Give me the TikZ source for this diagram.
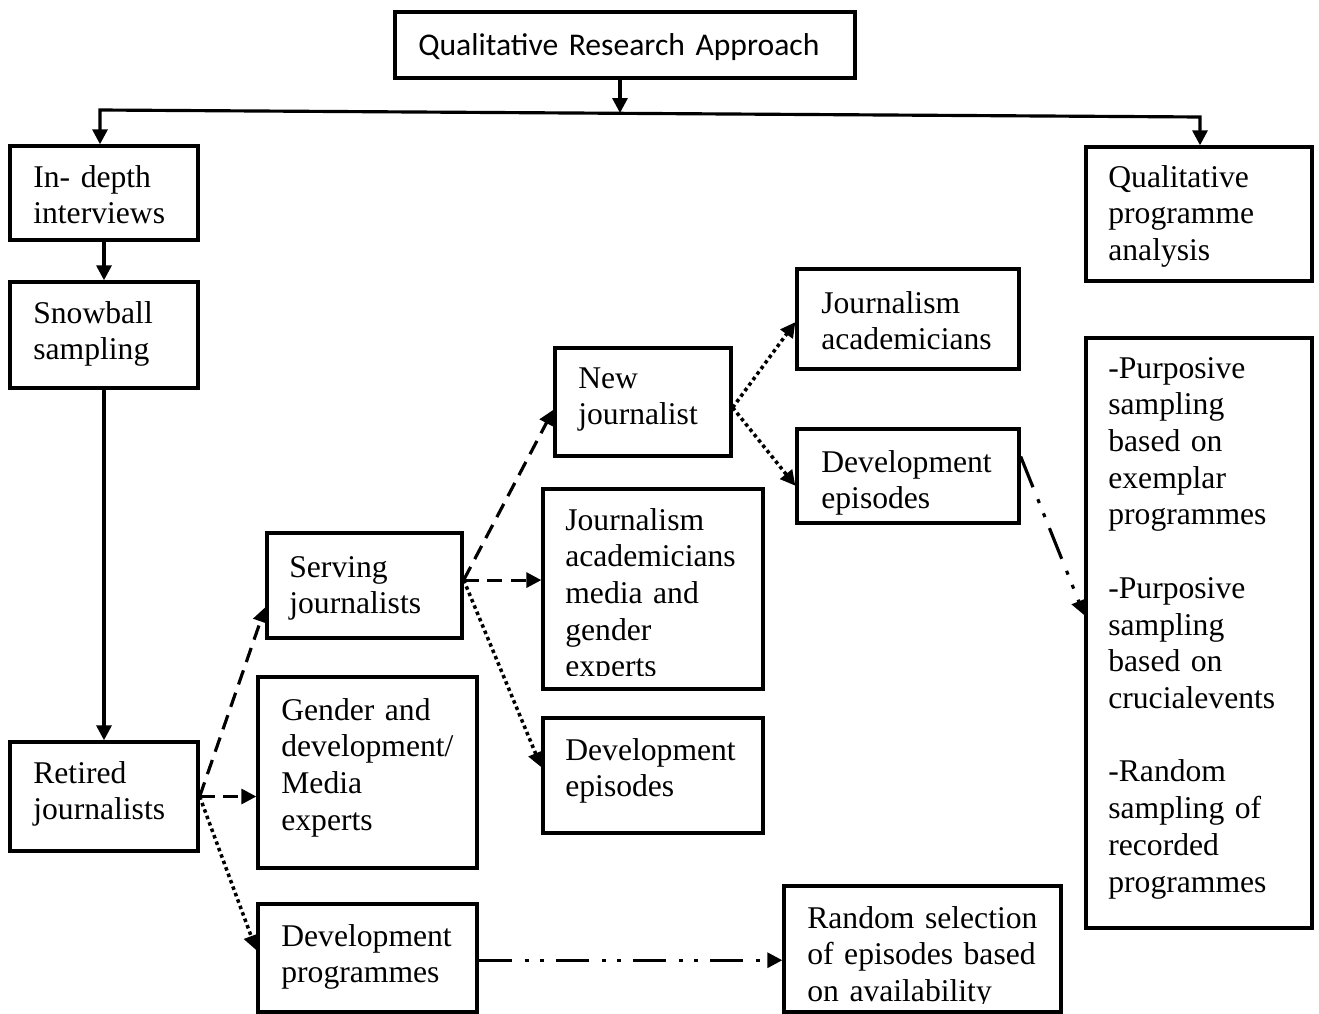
\documentclass[tikz,border=0pt]{standalone}
\usepackage{fontspec}
\setmainfont{Liberation Serif}
\newfontfamily\calibfont{Carlito}
\usetikzlibrary{arrows.meta,calc,fit}
\begin{document}
\begin{tikzpicture}[x=0.02cm,y=-0.02cm,
  box/.style={draw, line width=1.9pt, inner sep=0pt},
  txt/.style={anchor=base west, inner sep=0pt, align=left, text width=10cm, font=\fontsize{18}{20.9}\selectfont},
  conn/.style={line width=1.8pt, -{Triangle[length=8.5pt,width=8.5pt]}},
  dashedc/.style={conn, dash pattern=on 8.5pt off 5pt},
  dottedc/.style={conn, line width=2pt, dash pattern=on 2pt off 1.9pt},
  dashdotc/.style={conn, dash pattern=on 18.8pt off 7.4pt on 2.3pt off 6.3pt on 2.3pt off 6.8pt},
]
\useasboundingbox (0,0) rectangle (1319,1014);
\fill[white] (0,0) rectangle (1319,1014);

% boxes
\node[box, fit={(395,12) (855,78)}] (top) {};
\node[box, fit={(10,146) (198,240)}] (indepth) {};
\node[box, fit={(10,282) (198,388)}] (snowball) {};
\node[box, fit={(10,742) (198,851)}] (retired) {};
\node[box, fit={(1086,147) (1312,281)}] (qpa) {};
\node[box, fit={(1086,338) (1312,928)}] (big) {};
\node[box, fit={(267,533) (462,638)}] (serving) {};
\node[box, fit={(258,677) (477,868)}] (gender) {};
\node[box, fit={(258,904) (477,1012)}] (devprog) {};
\node[box, fit={(555,348) (731,456)}] (newj) {};
\node[box, fit={(543,489) (763,689)}] (jam) {};
\node[box, fit={(543,718) (763,833)}] (devepi) {};
\node[box, fit={(797,269) (1019,369)}] (jacad) {};
\node[box, fit={(797,429) (1019,523)}] (devepi2) {};
\node[box, fit={(784,886) (1061,1012)}] (random) {};

% texts
\node[txt, font=\calibfont\fontsize{18}{21}\selectfont] (top-t) at (418,55) {Qualitative Research Approach};
\node[txt] (indepth-t) at (33,187) {In- depth\\interviews};
\node[txt] (snowball-t) at (33,323) {Snowball\\sampling};
\node[txt] (retired-t) at (33,783) {Retired\\journalists};
\node[txt] (qpa-t) at (1108,187) {Qualitative\\programme\\analysis};
\node[txt] (big-t) at (1108,378) {-Purposive\\sampling\\based on\\exemplar\\programmes\\~\\-Purposive\\sampling\\based on\\crucialevents\\~\\-Random\\sampling of\\recorded\\programmes};
\node[txt] (serving-t) at (289,577) {Serving\\journalists};
\node[txt] (gender-t) at (281,720) {Gender and\\development/\\Media\\experts};
\node[txt] (devprog-t) at (281,946) {Development\\programmes};
\node[txt] (newj-t) at (578,388) {New\\journalist};
\begin{scope}
\clip (543,489) rectangle (763,675);
\node[txt] (jam-t) at (565,530) {Journalism\\academicians\\media and\\gender\\experts};
\end{scope}
\node[txt] (devepi-t) at (565,760) {Development\\episodes};
\node[txt] (jacad-t) at (821,313) {Journalism\\academicians};
\node[txt] (devepi2-t) at (821,472) {Development\\episodes};
\begin{scope}
\clip (784,886) rectangle (1061,1003);
\node[txt] (random-t) at (807,928) {Random selection\\of episodes based\\on availability};
\end{scope}

% connectors
\coordinate (jl) at (100,110);
\coordinate (jr) at (1200,117);
\coordinate (jm) at (620,113);
\draw[conn] (top.south -| jm) -- (jm);
\draw[line width=1.8pt, {Triangle[length=8.5pt,width=8.5pt]}-{Triangle[length=8.5pt,width=8.5pt]}]
  (jl |- indepth.north) -- (jl) -- (jr) -- (jr |- qpa.north);
\draw[conn] (indepth.south) -- (snowball.north);
\draw[conn] (snowball.south) -- (retired.north);

\draw[dashedc] (retired.east) -- ($(serving.north west)!0.7!(serving.south west)$);
\draw[dashedc] (retired.east) -- (retired.east -| gender.west);
\draw[dottedc] (retired.east) -- ($(devprog.north west)!0.43!(devprog.south west)$);

\coordinate (sv) at ($(serving.north east)!0.45!(serving.south east)$);
\draw[dashedc] (sv) -- ($(newj.north west)!0.57!(newj.south west)$);
\draw[dashedc] (sv) -- (sv -| jam.west);
\draw[dottedc] (sv) -- ($(devepi.north west)!0.43!(devepi.south west)$);

\coordinate (nj) at ($(newj.north east)!0.55!(newj.south east)$);
\draw[dottedc] (nj) -- ($(jacad.north west)!0.53!(jacad.south west)$);
\draw[dottedc] (nj) -- ($(devepi2.north west)!0.6!(devepi2.south west)$);

\draw[dashdotc] ($(devepi2.north east)!0.3!(devepi2.south east)$) -- ($(big.north west)!0.47!(big.south west)$);
\coordinate (dp) at ($(devprog.north east)!0.52!(devprog.south east)$);
\draw[dashdotc] (dp) -- (dp -| random.west);
\end{tikzpicture}
\end{document}
